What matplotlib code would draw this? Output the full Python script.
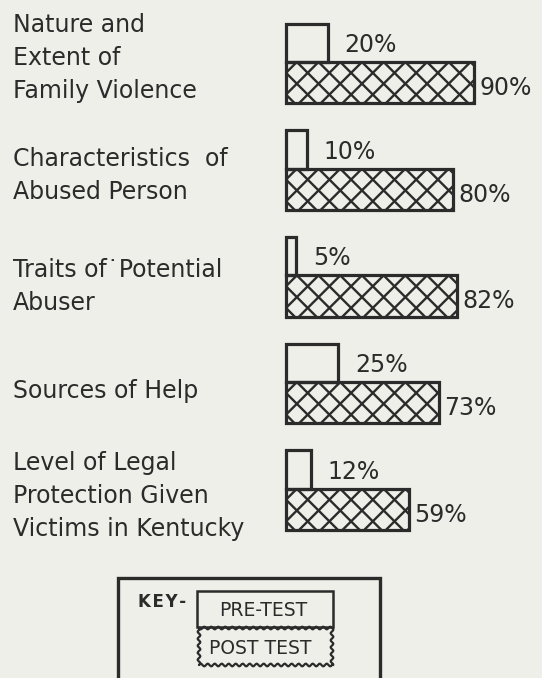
import matplotlib
matplotlib.use("Agg")
import numpy as np
import matplotlib.pyplot as plt
from matplotlib.patches import Rectangle
from matplotlib.lines import Line2D

plt.rcParams['font.family'] = ['DejaVu Sans']

categories = [
    "Nature and\nExtent of\nFamily Violence",
    "Characteristics  of\nAbused Person",
    "Traits of\u02d9Potential\nAbuser",
    "Sources of Help",
    "Level of Legal\nProtection Given\nVictims in Kentucky",
]
pre_test = [20, 10, 5, 25, 12]
post_test = [90, 80, 82, 73, 59]

BG = '#eeefe8'
INK = '#2b2b2b'
W, H = 542, 678

fig = plt.figure(figsize=(W / 100, H / 100), dpi=100, facecolor=BG)

# Bar scale: 2.09 px per percent, bars start 286 px from the left edge;
# consecutive topics are 106.7 px apart.
px_per_pct = 2.09
x0 = 286
first_c, step = 62, 106.7
ax = fig.add_axes([0, 0, 1, 1])
ax.set_facecolor('none')
ax.set_xlim(-x0 / px_per_pct, (W - x0) / px_per_pct)
ax.set_ylim((H - first_c) / step, -first_c / step)
ax.axis('off')

pre_h, post_h = 0.36, 0.386
ys = np.arange(len(categories))
ax.barh(ys - pre_h / 2, pre_test, height=pre_h, left=0,
        color=BG, edgecolor=INK, linewidth=2.3, zorder=3)
post_bars = ax.barh(ys + post_h / 2, post_test, height=post_h, left=0,
                    color='none', edgecolor=INK, linewidth=2.3, zorder=3)

# 45-degree diamond lattice inside the post-test bars
period = 21.7 / px_per_pct
for bar in post_bars:
    bx, by = bar.get_x(), bar.get_y()
    bw, bh = bar.get_width(), bar.get_height()
    run = bh * step / px_per_pct          # horizontal run of a 45° line
    ax.add_patch(Rectangle((bx, by), bw, bh, facecolor=BG, edgecolor='none',
                           zorder=2))
    k0 = int(np.floor(-run / period)) - 1
    k1 = int(np.ceil((bw + run) / period)) + 1
    for k in range(k0, k1):
        xs = bx + period * 0.5 + k * period
        for sgn in (1, -1):
            ln = Line2D([xs, xs + sgn * run], [by, by + bh], color=INK,
                        linewidth=1.7, zorder=2.5, solid_capstyle='butt')
            ax.add_line(ln)
            ln.set_clip_path(bar)

for y, v in zip(ys, pre_test):
    ax.text(v + 8, y - pre_h / 2 + 0.02, f"{v}%", fontsize=17,
            color=INK, va='center', ha='left')
for y, v in zip(ys, post_test):
    ax.text(v + 2.5, y + post_h / 2 + 0.05, f"{v}%", fontsize=17,
            color=INK, va='center', ha='left')

# Topic labels, one baseline per line
first_baselines = [32, 166, 277, 398, 470]
line_gap = 33
for lab, base in zip(categories, first_baselines):
    for k, line in enumerate(lab.split('\n')):
        fig.text(13 / W, 1 - (base + k * line_gap) / H, line, fontsize=17,
                 color=INK, ha='left', va='baseline')


# Key
def frect(x, y, w, h, **kw):
    fig.patches.append(Rectangle((x / W, 1 - (y + h) / H), w / W, h / H,
                                 transform=fig.transFigure, **kw))


def wavy_rect(x, y, w, h, amp=1.3, wl=7.0, **kw):
    """Rectangle outline drawn with small scallops (figure pixels, y down)."""
    pts = []
    t = np.linspace(0, w, int(w) * 2)
    pts += [(x + s, y + amp * np.sin(2 * np.pi * s / wl)) for s in t]
    t2 = np.linspace(0, h, int(h) * 2)
    pts += [(x + w + amp * np.sin(2 * np.pi * s / wl), y + s) for s in t2]
    pts += [(x + w - s, y + h + amp * np.sin(2 * np.pi * s / wl)) for s in t]
    pts += [(x + amp * np.sin(2 * np.pi * s / wl), y + h - s) for s in t2]
    pts.append(pts[0])
    xs = [p[0] / W for p in pts]
    yv = [1 - p[1] / H for p in pts]
    fig.lines.append(Line2D(xs, yv, transform=fig.transFigure, **kw))


frect(118, 578, 262, 130, fill=False, edgecolor=INK, linewidth=2.4)
fig.text(138 / W, 1 - 602 / H, "K\u200aE\u200aY\u200a-", fontsize=12,
         fontweight='bold', color=INK, ha='left', va='center')
frect(197, 591, 136, 36, facecolor=BG, edgecolor=INK, linewidth=1.8)
fig.text(263 / W, 1 - 611 / H, "PRE-TEST", fontsize=13.5, color=INK,
         ha='center', va='center')
wavy_rect(199, 628, 133, 37, color=INK, linewidth=1.6)
fig.text(260 / W, 1 - 648 / H, "POST TEST", fontsize=13.5, color=INK,
         ha='center', va='center')

fig.savefig("out.png", dpi=100, facecolor=BG)
